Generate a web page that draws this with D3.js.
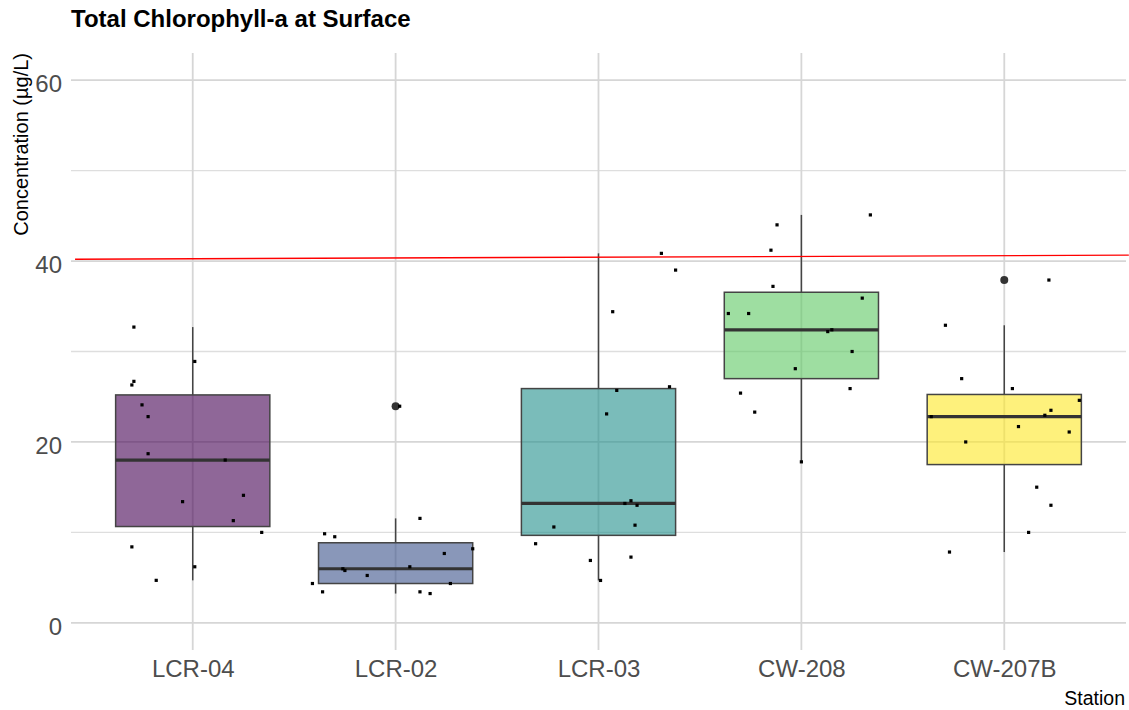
<!DOCTYPE html>
<html>
<head>
  <meta charset="utf-8">
  <title>Total Chlorophyll-a at Surface</title>
  <script src="https://d3js.org/d3.v7.min.js"></script>
  <style>
    body { margin: 0; background: #fff; }
    svg { font-family: "Liberation Sans", Arial, sans-serif; }
  </style>
</head>
<body>
  <svg width="1129" height="710"></svg>
  <script>
    // Stations in plot order
    var stations = ["LCR-04", "LCR-02", "LCR-03", "CW-208", "CW-207B"];
    var fills = ["#440154", "#3B528B", "#21908C", "#5DC863", "#FDE725"];

    // Chlorophyll-a samples per station (ug/L)
    var lcr04 = [32.7, 28.9, 26.7, 26.3, 24.1, 22.8, 18.7, 18.0, 14.1, 13.4, 11.3, 10.0, 8.4, 6.2, 4.7];
    var lcr02 = [23.95, 11.55, 9.85, 9.52, 8.19, 7.67, 6.2, 5.98, 5.79, 5.24, 4.35, 4.35, 3.43, 3.43, 3.24];
    var lcr03 = [40.85, 39.0, 34.4, 26.1, 25.7, 23.1, 13.5, 13.2, 13.0, 10.6, 10.8, 8.75, 7.27, 6.9, 4.69];
    var cw208 = [45.1, 44.0, 41.2, 37.2, 35.9, 34.2, 34.2, 32.4, 32.2, 30.0, 28.1, 25.9, 25.4, 23.3, 17.8];
    var cw207b = [37.9, 32.9, 27.0, 25.9, 24.6, 23.5, 22.95, 22.8, 21.7, 21.1, 20.0, 15.0, 13.0, 10.0, 7.83];

    // Horizontal jitter of each sample, in category units
    var jit04 = [-0.29, 0.01, -0.29, -0.30, -0.25, -0.22, -0.22, 0.16, 0.25, -0.05, 0.20, 0.34, -0.30, 0.01, -0.18];
    var jit02 = [0.02, 0.12, -0.35, -0.30, 0.38, 0.24, 0.07, -0.26, -0.25, -0.14, -0.41, 0.27, -0.36, 0.12, 0.17];
    var jit03 = [0.31, 0.38, 0.07, 0.35, 0.09, 0.04, 0.16, 0.13, 0.19, -0.22, 0.18, -0.31, 0.16, -0.04, 0.01];
    var jit208 = [0.34, -0.12, -0.15, -0.14, 0.30, -0.36, -0.26, 0.15, 0.13, 0.25, -0.03, 0.24, -0.30, -0.23, 0.00];
    var jit207b = [0.22, -0.29, -0.21, 0.04, 0.37, 0.23, 0.20, -0.36, 0.07, 0.32, -0.19, 0.16, 0.23, 0.12, -0.27];

    // Reference line (a slightly sloped red line near 40)
    var refX = [0.42, 5.614];
    var refY = [40.2, 40.65];

    var yTicks = [0, 20, 40, 60];
    var yMinor = [10, 30, 50];

    var values = [lcr04, lcr02, lcr03, cw208, cw207b];
    var jitters = [jit04, jit02, jit03, jit208, jit207b];

    var svg = d3.select("svg");
    var pLeft = 71, pRight = 1126, pTop = 53, pBottom = 650;

    var x = d3.scaleLinear().domain([0.4, 5.6]).range([pLeft, pRight]);
    var y = d3.scaleLinear().domain([-3, 63]).range([pBottom, pTop]);
    var step = x(2) - x(1);
    var boxW = 0.76 * step;

    // Grid
    var grid = svg.append("g");
    grid.selectAll(".minor").data(yMinor).enter().append("line")
      .attr("x1", pLeft).attr("x2", pRight)
      .attr("y1", function(d) { return y(d); }).attr("y2", function(d) { return y(d); })
      .attr("stroke", "#dedede").attr("stroke-width", 1.3);
    grid.selectAll(".major").data(yTicks).enter().append("line")
      .attr("x1", pLeft).attr("x2", pRight)
      .attr("y1", function(d) { return y(d); }).attr("y2", function(d) { return y(d); })
      .attr("stroke", "#d6d6d6").attr("stroke-width", 1.8);
    grid.selectAll(".vert").data(stations).enter().append("line")
      .attr("x1", function(d, i) { return x(i + 1); }).attr("x2", function(d, i) { return x(i + 1); })
      .attr("y1", pTop).attr("y2", pBottom)
      .attr("stroke", "#d6d6d6").attr("stroke-width", 1.8);

    // Box statistics (same quantile rule as R)
    var stats = values.map(function(v, i) {
      var s = v.slice().sort(d3.ascending);
      var q1 = d3.quantile(s, 0.25), med = d3.quantile(s, 0.5), q3 = d3.quantile(s, 0.75);
      var iqr = q3 - q1;
      var inside = s.filter(function(d) { return d >= q1 - 1.5 * iqr && d <= q3 + 1.5 * iqr; });
      return {
        i: i, q1: q1, med: med, q3: q3,
        lo: d3.min(inside), hi: d3.max(inside),
        out: s.filter(function(d) { return d < q1 - 1.5 * iqr || d > q3 + 1.5 * iqr; })
      };
    });

    var boxes = svg.append("g").selectAll("g").data(stats).enter().append("g");

    boxes.append("line")
      .attr("x1", function(d) { return x(d.i + 1); }).attr("x2", function(d) { return x(d.i + 1); })
      .attr("y1", function(d) { return y(d.hi); }).attr("y2", function(d) { return y(d.q3); })
      .attr("stroke", "#444").attr("stroke-width", 1.5);
    boxes.append("line")
      .attr("x1", function(d) { return x(d.i + 1); }).attr("x2", function(d) { return x(d.i + 1); })
      .attr("y1", function(d) { return y(d.q1); }).attr("y2", function(d) { return y(d.lo); })
      .attr("stroke", "#444").attr("stroke-width", 1.5);
    boxes.append("rect")
      .attr("x", function(d) { return x(d.i + 1) - boxW / 2; })
      .attr("y", function(d) { return y(d.q3); })
      .attr("width", boxW)
      .attr("height", function(d) { return y(d.q1) - y(d.q3); })
      .attr("fill", function(d) { return fills[d.i]; })
      .attr("fill-opacity", 0.6)
      .attr("stroke", "#444").attr("stroke-width", 1.5);
    boxes.append("line")
      .attr("x1", function(d) { return x(d.i + 1) - boxW / 2; })
      .attr("x2", function(d) { return x(d.i + 1) + boxW / 2; })
      .attr("y1", function(d) { return y(d.med); }).attr("y2", function(d) { return y(d.med); })
      .attr("stroke", "#333").attr("stroke-width", 3.2);
    boxes.selectAll(".out").data(function(d) { return d.out.map(function(o) { return { i: d.i, v: o }; }); })
      .enter().append("circle")
      .attr("cx", function(d) { return x(d.i + 1); })
      .attr("cy", function(d) { return y(d.v); })
      .attr("r", 4)
      .attr("fill", "#333");

    // Jittered samples
    var pts = [];
    values.forEach(function(v, i) {
      v.forEach(function(val, j) { pts.push({ i: i, v: val, dx: jitters[i][j] }); });
    });
    svg.append("g").selectAll("rect").data(pts).enter().append("rect")
      .attr("x", function(d) { return x(d.i + 1 + d.dx) - 1.6; })
      .attr("y", function(d) { return y(d.v) - 1.6; })
      .attr("width", 3.2).attr("height", 3.2)
      .attr("fill", "#000");

    // Red reference line
    svg.append("line")
      .attr("x1", x(refX[0])).attr("x2", x(refX[1]))
      .attr("y1", y(refY[0])).attr("y2", y(refY[1]))
      .attr("stroke", "#ff0000").attr("stroke-width", 1.4);

    // Axes
    var yAxis = svg.append("g")
      .attr("transform", "translate(" + pLeft + ",0)")
      .call(d3.axisLeft(y).tickValues(yTicks).tickSize(0).tickPadding(9));
    yAxis.select(".domain").remove();
    yAxis.selectAll("text")
      .attr("dy", "11.5px")
      .style("font-size", "24px").attr("fill", "#4d4d4d")
      .style("font-family", "'Liberation Sans', Arial, sans-serif");

    var xAxis = svg.append("g")
      .attr("transform", "translate(0," + pBottom + ")")
      .call(d3.axisBottom(x).tickValues([1, 2, 3, 4, 5]).tickSize(0).tickPadding(10)
        .tickFormat(function(d) { return stations[d - 1]; }));
    xAxis.select(".domain").remove();
    xAxis.selectAll("text")
      .style("font-size", "24px").attr("fill", "#4d4d4d")
      .style("font-family", "'Liberation Sans', Arial, sans-serif");

    // Titles
    svg.append("text")
      .attr("x", 71).attr("y", 27)
      .style("font-size", "24px").style("font-weight", "bold")
      .text("Total Chlorophyll-a at Surface");

    svg.append("text")
      .attr("transform", "translate(28," + pTop + ") rotate(-90)")
      .attr("text-anchor", "end")
      .style("font-size", "20px")
      .text("Concentration (µg/L)");

    svg.append("text")
      .attr("x", pRight - 1).attr("y", 705)
      .attr("text-anchor", "end")
      .style("font-size", "19.5px")
      .text("Station");
  </script>
</body>
</html>
